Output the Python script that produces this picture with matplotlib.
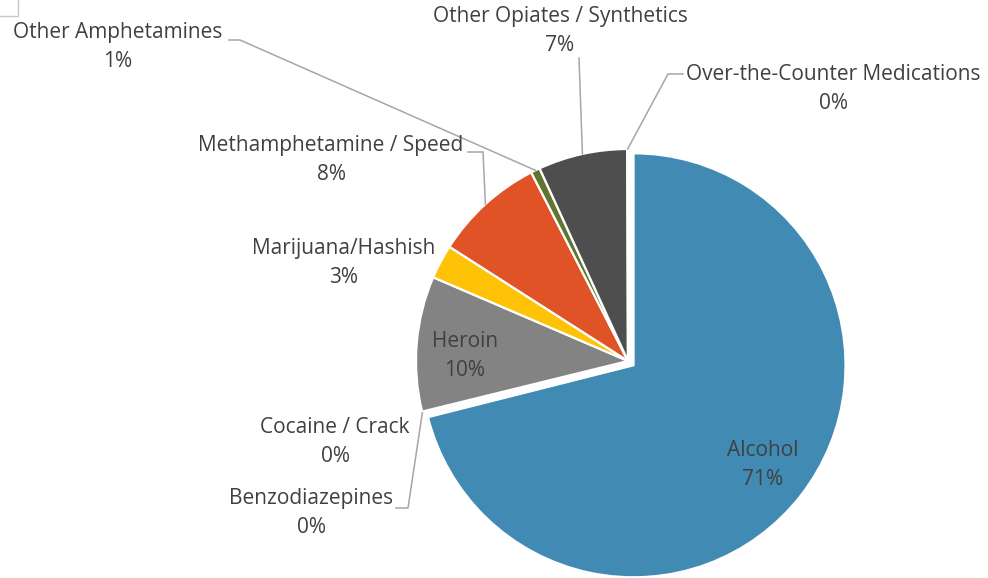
import numpy as np
import matplotlib.pyplot as plt
from matplotlib.patches import Rectangle

plt.rcParams['font.family'] = ['Open Sans', 'DejaVu Sans']

categories = ['Alcohol', 'Benzodiazepines', 'Cocaine / Crack', 'Heroin', 'Marijuana/Hashish',
              'Methamphetamine / Speed', 'Other Amphetamines', 'Other Opiates / Synthetics',
              'Over-the-Counter Medications']
shares = [71.1, 0.05, 0.05, 10.3, 2.6, 8.4, 0.7, 6.8, 0.05]
pct_labels = ['71%', '0%', '0%', '10%', '3%', '8%', '1%', '7%', '0%']
colors = ['#418AB3', '#A6B727', '#F69200', '#838383', '#FEC306',
          '#DF5327', '#5F7530', '#4E4E4E', '#70AD47']

W, H = 988, 578


def px(x, y):
    # pixel position (from top-left) -> data coords
    return (x, H - y)


fig = plt.figure(figsize=(9.88, 5.78), dpi=100)
ax = fig.add_axes([0, 0, 1, 1])

explode = [7, 0, 0, 0, 0, 0, 0, 0, 0]
wedges, _ = ax.pie(shares, colors=colors, startangle=90, counterclock=False,
                   radius=212, center=px(628, 361), explode=explode,
                   wedgeprops=dict(edgecolor='white', linewidth=1.6))
ax.set_xlim(0, W)
ax.set_ylim(0, H)
ax.set_aspect('equal')
ax.axis('off')

# label block centres (pixels) and leader elbows
label_pos = {
    'Alcohol': (763, 465),
    'Benzodiazepines': (311, 513),
    'Cocaine / Crack': (335, 442),
    'Heroin': (465, 356),
    'Marijuana/Hashish': (344, 263),
    'Methamphetamine / Speed': (331, 160),
    'Other Amphetamines': (118, 47),
    'Other Opiates / Synthetics': (560, 31),
    'Over-the-Counter Medications': (833, 89),
}
leaders = {
    'Benzodiazepines': [(396, 508), (408, 508)],
    'Methamphetamine / Speed': [(468, 152), (483, 152)],
    'Other Amphetamines': [(229, 40), (240, 40)],
    'Other Opiates / Synthetics': [(579, 58)],
    'Over-the-Counter Medications': [(683, 74), (668, 74)],
}

for name, pct, w in zip(categories, pct_labels, wedges):
    x, y = label_pos[name]
    ax.text(*px(x, y), f'{name}\n{pct}', ha='center', va='center',
            fontsize=15, color='#404040', linespacing=1.52)
    if name in leaders:
        mid = np.deg2rad((w.theta1 + w.theta2) / 2)
        ex = w.center[0] + w.r * np.cos(mid)
        ey = w.center[1] + w.r * np.sin(mid)
        pts = [px(a, b) for a, b in leaders[name]] + [(ex, ey)]
        xs, ys = zip(*pts)
        ax.plot(xs, ys, color='#A6A6A6', lw=1.1, solid_joinstyle='miter')

ax.add_patch(Rectangle(px(-2, 16), 20, 18, fill=False, edgecolor='#C8C8C8', lw=1))

fig.savefig('out.png', dpi=100)
